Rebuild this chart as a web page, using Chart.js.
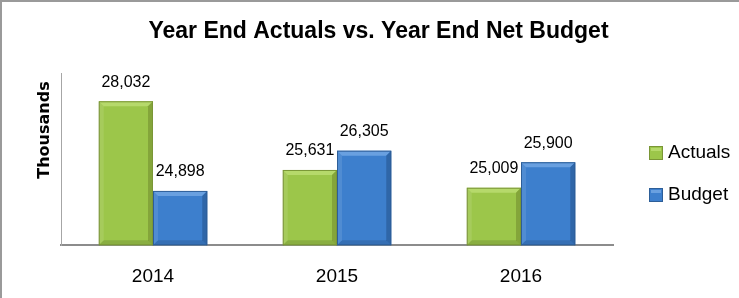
<!DOCTYPE html>
<html>
<head>
<meta charset="utf-8">
<script src="https://cdn.jsdelivr.net/npm/chart.js@4"></script>
<style>
  body { margin: 0; background: #fff; }
  #caja { position: relative; width: 739px; height: 298px; }
  #marco { position: absolute; left: 0; top: 0; right: 0; bottom: 0; border-top: 2px solid #9a9a9a; border-left: 2px solid #9a9a9a; pointer-events: none; }
</style>
</head>
<body>
<div id="caja">
  <canvas id="grafico"></canvas>
  <div id="marco"></div>
</div>
<script>
const anios = ['2014', '2015', '2016'];
const actuales = [28032, 25631, 25009];
const presupuesto = [24898, 26305, 25900];

// colores: cuerpo, cara superior, lado derecho, borde
const verde = { cuerpo: '#9cc64a', arriba: '#b6d96b', lado: '#84a53a', borde: '#7a9636' };
const azul = { cuerpo: '#3d7fcd', arriba: '#69a0e0', lado: '#2f66a8', borde: '#2d5e98' };

const fuente = '"Liberation Sans", Arial, sans-serif';

const bisel = {
    id: 'bisel',
    afterDatasetsDraw(chart) {
        const ctx = chart.ctx;
        const fondo = chart.chartArea.bottom;
        chart.data.datasets.forEach((ds, i) => {
            const c = ds.colores;
            chart.getDatasetMeta(i).data.forEach((bar, j) => {
                const p = bar.getProps(['x', 'y', 'base', 'width'], true);
                const x = p.x, y = p.y, width = p.width;
                const base = Math.min(p.base, fondo);
                const l = x - width / 2, r = x + width / 2, b = 5;
                ctx.save();
                // cara de arriba
                ctx.fillStyle = c.arriba;
                ctx.beginPath();
                ctx.moveTo(l, y); ctx.lineTo(r, y); ctx.lineTo(r - b, y + b); ctx.lineTo(l + b, y + b);
                ctx.closePath(); ctx.fill();
                // lado derecho
                ctx.fillStyle = c.lado;
                ctx.beginPath();
                ctx.moveTo(r, y); ctx.lineTo(r, base); ctx.lineTo(r - b, base - b); ctx.lineTo(r - b, y + b);
                ctx.closePath(); ctx.fill();
                // lado izquierdo
                ctx.fillStyle = 'rgba(255,255,255,0.1)';
                ctx.beginPath();
                ctx.moveTo(l, y); ctx.lineTo(l + b, y + b); ctx.lineTo(l + b, base - b); ctx.lineTo(l, base);
                ctx.closePath(); ctx.fill();
                // abajo
                ctx.fillStyle = 'rgba(0,0,0,0.12)';
                ctx.beginPath();
                ctx.moveTo(l, base); ctx.lineTo(l + b, base - b); ctx.lineTo(r - b, base - b); ctx.lineTo(r, base);
                ctx.closePath(); ctx.fill();
                ctx.strokeStyle = c.borde;
                ctx.lineWidth = 1;
                ctx.strokeRect(l + 0.5, y + 0.5, width - 1, base - y - 1);
                ctx.restore();

                // etiqueta del valor
                ctx.save();
                ctx.fillStyle = '#000';
                ctx.font = '16px ' + fuente;
                ctx.textAlign = 'center';
                ctx.textBaseline = 'middle';
                ctx.fillText(ds.data[j].toLocaleString('en-US'), x, y - 19);
                ctx.restore();
            });
        });
    },
    afterDraw(chart) {
        const ctx = chart.ctx;
        // titulo del eje
        ctx.save();
        ctx.translate(45, 130);
        ctx.rotate(-Math.PI / 2);
        ctx.fillStyle = '#000';
        ctx.font = 'bold 16px "DejaVu Sans", sans-serif';
        ctx.textAlign = 'center';
        ctx.textBaseline = 'middle';
        ctx.fillText('Thousands', 0, 0);
        ctx.restore();

        // leyenda
        const x0 = chart.chartArea.right + 36;
        chart.data.datasets.forEach((ds, i) => {
            const yc = 153 + i * 42;
            ctx.save();
            ctx.fillStyle = ds.colores.cuerpo;
            ctx.fillRect(x0, yc - 7, 14, 14);
            ctx.fillStyle = ds.colores.arriba;
            ctx.fillRect(x0 + 2, yc - 5, 10, 3);
            ctx.strokeStyle = ds.colores.borde;
            ctx.lineWidth = 1;
            ctx.strokeRect(x0 + 0.5, yc - 6.5, 13, 13);
            ctx.fillStyle = '#000';
            ctx.font = '19px ' + fuente;
            ctx.textBaseline = 'middle';
            ctx.fillText(ds.label, x0 + 19, yc);
            ctx.restore();
        });
    }
};

new Chart(document.getElementById('grafico'), {
    type: 'bar',
    data: {
        labels: anios,
        datasets: [
            {
                label: 'Actuals',
                data: actuales,
                backgroundColor: verde.cuerpo,
                borderColor: verde.borde,
                borderWidth: 1,
                colores: verde
            },
            {
                label: 'Budget',
                data: presupuesto,
                backgroundColor: azul.cuerpo,
                borderColor: azul.borde,
                borderWidth: 1,
                colores: azul
            }
        ]
    },
    options: {
        responsive: true,
        maintainAspectRatio: false,
        animation: false,
        layout: { padding: { left: 18, right: 0, bottom: -10 } },
        datasets: { bar: { categoryPercentage: 0.59, barPercentage: 1 } },
        plugins: {
            tooltip: { enabled: false },
            legend: { display: false },
            title: {
                display: true,
                text: 'Year End Actuals vs. Year End Net Budget',
                color: '#000',
                font: { family: fuente, size: 23, weight: 'bold' },
                padding: { top: 18, bottom: 28 }
            }
        },
        scales: {
            x: {
                grid: { display: false, drawTicks: false },
                border: { color: '#8c8c8c', width: 2 },
                ticks: {
                    color: '#000',
                    padding: 20,
                    font: { family: fuente, size: 19 }
                }
            },
            y: {
                min: 23000,
                max: 29000,
                grid: { display: false, drawTicks: false },
                border: { color: '#a6a6a6', width: 1 },
                ticks: { display: false },
                afterFit(scale) { scale.width = 43; }
            },
            derecha: {
                type: 'linear',
                position: 'right',
                grid: { display: false, drawTicks: false },
                border: { display: false },
                ticks: { display: false },
                afterFit(scale) { scale.width = 126; }
            }
        }
    },
    plugins: [bisel]
});
</script>
</body>
</html>
